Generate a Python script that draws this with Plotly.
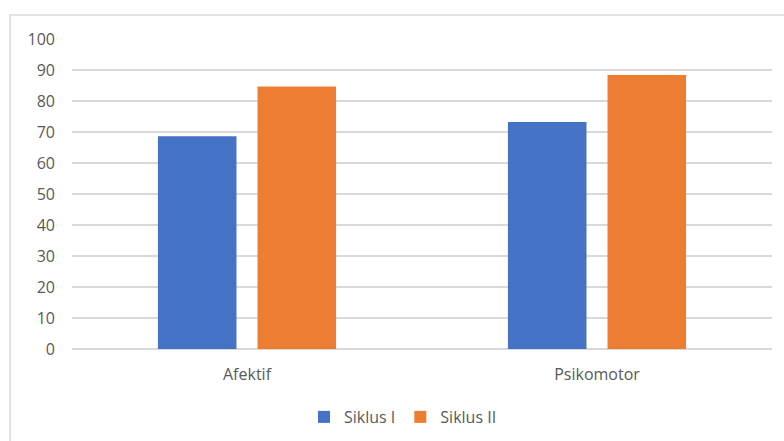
import plotly.graph_objects as go

categories = ["Afektif", "Psikomotor"]
siklus1 = [68.6, 73.2]
siklus2 = [84.7, 88.4]
series_names = ["Siklus I", "Siklus II"]
colors = ["#4472C4", "#ED7D31"]
y_ticks = list(range(0, 101, 10))

W, H = 784, 441
L, R, T, B = 72, 12, 39, 92
pw, ph = W - L - R, H - T - B

fig = go.Figure()
for name, vals, c in zip(series_names, [siklus1, siklus2], colors):
    fig.add_trace(go.Bar(x=categories, y=vals, name=name, marker=dict(color=c, line=dict(width=0))))

def px2x(px):
    return (px - L) / pw

def py2y(py):
    return (H - B - py) / ph

fig.add_shape(type="rect", xref="paper", yref="paper",
              x0=px2x(10), x1=px2x(790), y0=py2y(15), y1=py2y(450),
              line=dict(color="#D9D9D9", width=1.5), fillcolor="rgba(0,0,0,0)", layer="below")

font_fam = "Open Sans, Noto Sans, sans-serif"
fs = 16
fig.update_layout(
    width=W, height=H,
    margin=dict(l=L, r=R, t=T, b=B, autoexpand=False),
    paper_bgcolor="white", plot_bgcolor="white",
    barmode="group", bargap=0.431, bargroupgap=0.211,
    font=dict(family=font_fam, size=fs, color="#595959"),
    showlegend=True,
    legend=dict(orientation="h", x=px2x(403), xanchor="center", y=py2y(417), yanchor="middle",
                font=dict(size=fs, color="#595959"), itemwidth=30, traceorder="normal"),
    xaxis=dict(showgrid=False, showline=False, ticks="", ticklabelstandoff=14, automargin=False,
               tickfont=dict(size=fs, color="#595959")),
    yaxis=dict(range=[0, 100], tickvals=y_ticks, showgrid=True, gridcolor="#D9D9D9", gridwidth=1.5,
               zeroline=True, zerolinecolor="#D9D9D9", zerolinewidth=1.5, showline=False, ticks="",
               automargin=False, ticklabelstandoff=16, tickfont=dict(size=fs, color="#595959")),
)

fig.write_html("out.html")
